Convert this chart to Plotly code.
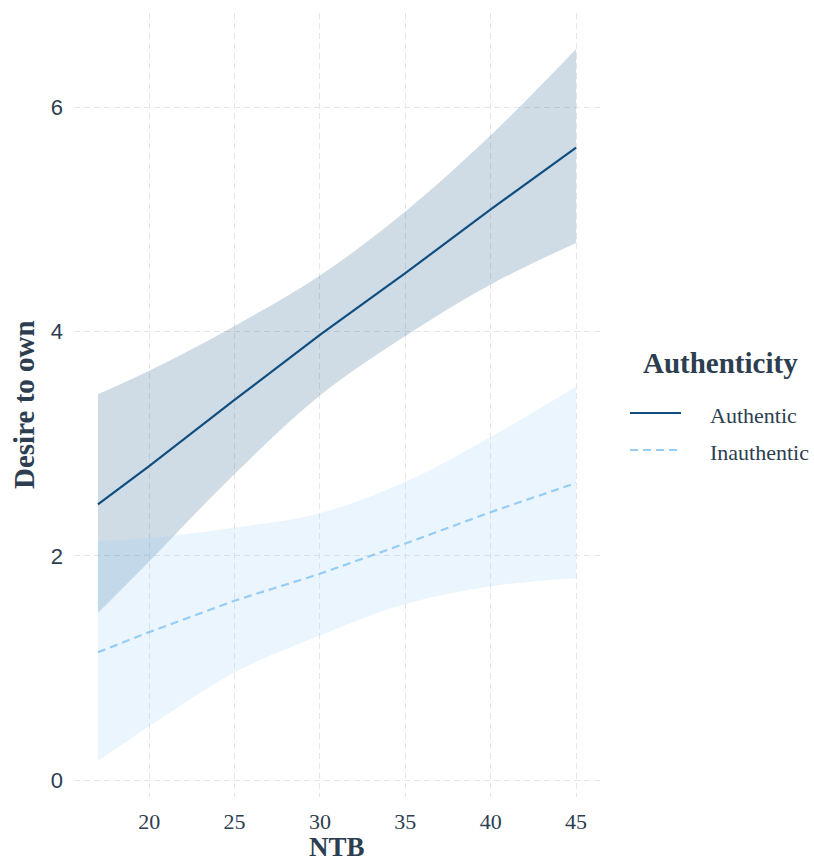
import plotly.graph_objects as go

# NTB values at which the fitted lines and confidence bands are evaluated
ntb = [17, 20, 25, 30, 35, 40, 45]

# Authentic: fitted desire to own and its confidence band
auth_fit = [2.46, 2.80, 3.39, 3.97, 4.52, 5.09, 5.64]
auth_upper = [3.44, 3.65, 4.05, 4.50, 5.07, 5.75, 6.52]
auth_lower = [1.49, 1.95, 2.73, 3.43, 3.96, 4.42, 4.79]

# Inauthentic: fitted desire to own and its confidence band
inauth_fit = [1.14, 1.32, 1.60, 1.84, 2.11, 2.39, 2.65]
inauth_upper = [2.13, 2.16, 2.25, 2.38, 2.66, 3.06, 3.51]
inauth_lower = [0.17, 0.48, 0.96, 1.29, 1.57, 1.73, 1.80]

x_ticks = [20, 25, 30, 35, 40, 45]
y_ticks = [0, 2, 4, 6]
legend_title = "Authenticity"
group_names = ["Authentic", "Inauthentic"]

AUTH_COLOR = "rgb(16,78,128)"
AUTH_FILL = "rgba(16,78,128,0.2)"
INAUTH_COLOR = "rgb(150,205,245)"
INAUTH_FILL = "rgba(150,205,245,0.2)"
TEXT = "#2c3e50"
SERIF = "Liberation Serif, Times New Roman, serif"
SANS = "Liberation Sans, Arial, sans-serif"

fig = go.Figure()


def add_band(lower, upper, fill):
    fig.add_trace(go.Scatter(x=ntb, y=lower, mode="lines", line=dict(width=0, shape="spline"),
                             hoverinfo="skip", showlegend=False))
    fig.add_trace(go.Scatter(x=ntb, y=upper, mode="lines", line=dict(width=0, shape="spline"),
                             fill="tonexty", fillcolor=fill, hoverinfo="skip", showlegend=False))


add_band(auth_lower, auth_upper, AUTH_FILL)
add_band(inauth_lower, inauth_upper, INAUTH_FILL)

fig.add_trace(go.Scatter(x=ntb, y=auth_fit, mode="lines", name=group_names[0],
                         line=dict(color=AUTH_COLOR, width=2.2), showlegend=False))
fig.add_trace(go.Scatter(x=ntb, y=inauth_fit, mode="lines", name=group_names[1],
                         line=dict(color=INAUTH_COLOR, width=2.2, dash="8px,5px"), showlegend=False))

grid = dict(showgrid=True, gridcolor="#e6e6e6", gridwidth=1, griddash="6px,4px",
            zeroline=False, showline=False, ticks="")

fig.update_xaxes(range=[15.6, 46.4], tickvals=x_ticks, ticktext=[str(v) for v in x_ticks],
                 tickfont=dict(family=SERIF, size=22, color=TEXT), ticklabelstandoff=9, **grid)
fig.update_yaxes(range=[-0.15, 6.84], tickvals=y_ticks, ticktext=[str(v) for v in y_ticks],
                 tickfont=dict(family=SANS, size=22, color=TEXT), ticklabelstandoff=10, **grid)

# plot area spans pixels x 74..600 and y 13..797
L, R, T, B = 74, 600, 13, 797
W, H = R - L, B - T


def px(xp):
    return (xp - L) / W


def py(yp):
    return (B - yp) / H


annotations = [
    dict(text="<b>NTB</b>", x=0.5, y=py(847), xanchor="center", yanchor="middle",
         font=dict(family=SERIF, size=27, color=TEXT)),
    dict(text="<b>Desire to own</b>", x=px(24), y=0.5, xanchor="center", yanchor="middle",
         textangle=-90, font=dict(family=SERIF, size=29, color=TEXT)),
    dict(text="<b>" + legend_title + "</b>", x=px(641), y=py(363), xanchor="left", yanchor="middle",
         font=dict(family=SERIF, size=29, color=TEXT)),
    dict(text=group_names[0], x=px(708), y=py(416), xanchor="left", yanchor="middle",
         font=dict(family=SERIF, size=22, color=TEXT)),
    dict(text=group_names[1], x=px(708), y=py(452), xanchor="left", yanchor="middle",
         font=dict(family=SERIF, size=22, color=TEXT)),
]
for a in annotations:
    a.update(xref="paper", yref="paper", showarrow=False)

shapes = [
    dict(type="line", xref="paper", yref="paper", x0=px(630), x1=px(681), y0=py(413), y1=py(413),
         line=dict(color=AUTH_COLOR, width=2.2)),
    dict(type="line", xref="paper", yref="paper", x0=px(630), x1=px(681), y0=py(450), y1=py(450),
         line=dict(color=INAUTH_COLOR, width=2.2, dash="8px,5px")),
]

fig.update_layout(
    width=814, height=863,
    margin=dict(l=L, r=814 - R, t=T, b=863 - B),
    paper_bgcolor="white", plot_bgcolor="white",
    showlegend=False,
    annotations=annotations,
    shapes=shapes,
)

fig.write_html("out.html")
